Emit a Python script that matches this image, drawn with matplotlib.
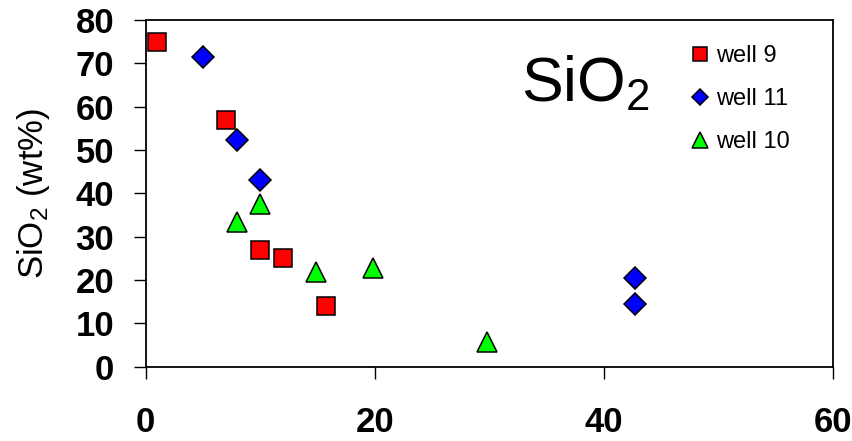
import matplotlib
matplotlib.use("Agg")
import matplotlib.pyplot as plt

plt.rcParams['font.family'] = ['Liberation Sans', 'DejaVu Sans']
plt.rcParams['mathtext.fontset'] = 'custom'
plt.rcParams['mathtext.rm'] = 'Liberation Sans'
plt.rcParams['mathtext.it'] = 'Liberation Sans'
plt.rcParams['mathtext.bf'] = 'Liberation Sans:bold'

# Data
well9_x = [1, 7, 10, 12, 15.7]
well9_y = [75, 56.8, 26.8, 25, 13.9]
well11_x = [5, 8, 10, 42.7, 42.7]
well11_y = [71.4, 52.4, 43.1, 20.5, 14.5]
well10_x = [8, 10, 14.9, 19.8, 29.8]
well10_y = [33.4, 37.6, 21.9, 22.8, 5.8]

x_ticks = [0, 20, 40, 60]
y_ticks = [0, 10, 20, 30, 40, 50, 60, 70, 80]

fig = plt.figure(figsize=(8.52, 4.41), dpi=100)
ax = fig.add_axes([0.171, 0.1685, 0.807, 0.7865])

ax.plot(well9_x, well9_y, ls='none', marker='s', ms=13.5, mfc='#ff0000',
        mec='black', mew=1.1, label='well 9', zorder=3)
ax.plot(well11_x, well11_y, ls='none', marker='D', ms=10.8, mfc='#0000ff',
        mec='black', mew=1.1, label='well 11', zorder=3)
ax.plot(well10_x, well10_y, ls='none', marker='^', ms=15, mfc='#00ff00',
        mec='black', mew=1.1, label='well 10', zorder=3)

ax.set_xlim(0, 60)
ax.set_ylim(0, 80)
ax.set_xticks(x_ticks)
ax.set_yticks(y_ticks)
ax.tick_params(axis='both', direction='out', length=8.6, width=1, color='black')
ax.tick_params(axis='x', pad=20, labelsize=25)
ax.tick_params(axis='y', pad=14, labelsize=25)
for lbl in ax.get_xticklabels() + ax.get_yticklabels():
    lbl.set_fontweight('bold')

for s in ax.spines.values():
    s.set_linewidth(1.3)
    s.set_color('black')

ax.set_ylabel('SiO$_2$ (wt%)', fontsize=25, labelpad=17)

ax.text(0.546, 0.765, 'SiO$_2$', transform=ax.transAxes, fontsize=45,
        ha='left', va='baseline')

leg = ax.legend(loc='upper left', bbox_to_anchor=(0.778, 0.955), frameon=False,
                fontsize=17, markerscale=0.78, handlelength=0.8,
                handletextpad=0.3, labelspacing=0.9, numpoints=1,
                borderaxespad=0)

fig.savefig('out.png', dpi=100)
